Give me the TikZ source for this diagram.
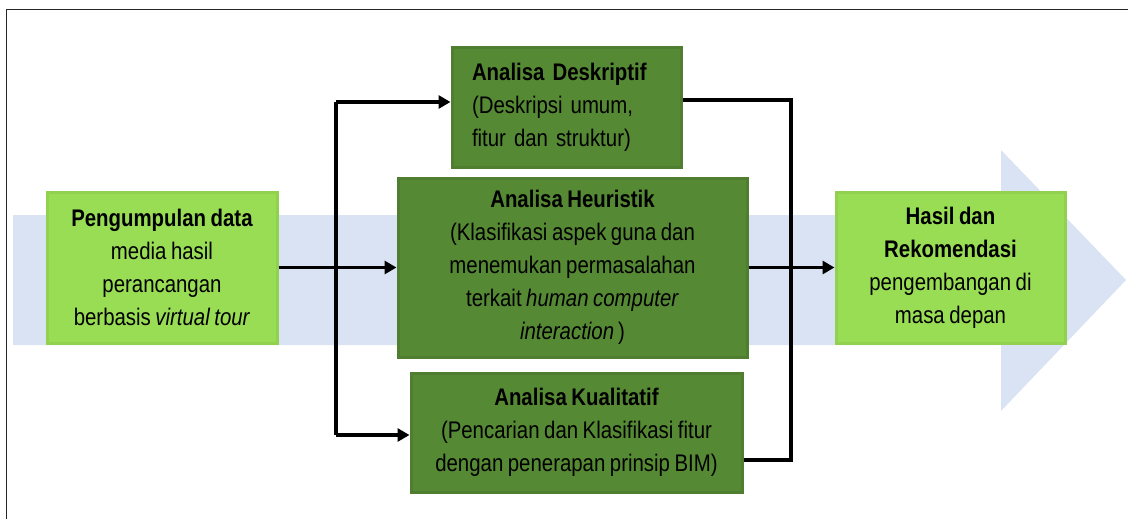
\documentclass[tikz,border=0pt]{standalone}
\usepackage{fontspec}
\setmainfont{Liberation Sans}[FakeStretch=0.85, WordSpace=0.8]
\usetikzlibrary{arrows.meta}
\definecolor{bandblue}{HTML}{DAE3F3}
\definecolor{lgfill}{HTML}{99DD55}
\definecolor{lgdraw}{HTML}{92D050}
\definecolor{dgfill}{HTML}{558934}
\definecolor{dgdraw}{HTML}{4F7E31}
\tikzset{
  txt/.style={font=\fontsize{24}{33}\selectfont, text=black},
  light/.style={txt, fill=lgfill, draw=lgdraw, line width=3pt, inner sep=0pt, align=center},
  dark/.style={txt, fill=dgfill, draw=dgdraw, line width=3pt, inner sep=0pt, align=center},
  conn/.style={line width=3.5pt, black},
  arr/.style={conn, -{Triangle[length=12pt,width=13pt]}},
}
\begin{document}
\begin{tikzpicture}[x=1pt,y=-1pt]
\useasboundingbox (0,0) rectangle (1128,519);
% frame
\draw[line width=1pt, black!85] (6,519) -- (6,10) -- (1128,10);
% big background arrow
\fill[bandblue] (13,215) -- (1001,215) -- (1001,150) -- (1126,280) -- (1001,411) -- (1001,345) -- (13,345) -- cycle;
% nodes
\node[light, minimum width=230pt, minimum height=151pt] (pd) at (162,267.5)
  {\textbf{Pengumpulan data}\\media hasil\\perancangan\\berbasis \textit{virtual tour}};
\node[dark, minimum width=229pt, minimum height=119pt, text width=189pt, align=left] (desc) at (566.5,107.5)
  {\textbf{Analisa Deskriptif}\\(Deskripsi umum,\\fitur dan struktur)};
\node[dark, minimum width=349pt, minimum height=179pt] (heu) at (572.5,267.5)
  {\textbf{Analisa Heuristik}\\(Klasifikasi aspek guna dan\\menemukan permasalahan\\terkait \textit{human computer}\\\textit{interaction}\,)};
\node[dark, minimum width=331pt, minimum height=119pt] (kual) at (576.5,432.5)
  {\textbf{Analisa Kualitatif}\\(Pencarian dan Klasifikasi fitur\\dengan penerapan prinsip BIM)};
\node[light, minimum width=229pt, minimum height=151pt] (hasil) at (950.5,267.5)
  {\textbf{Hasil dan}\\\textbf{Rekomendasi}\\pengembangan di\\masa depan};
% connectors
\coordinate (vt) at (336,102);
\coordinate (vb) at (336,435);
\coordinate (rt) at (791,100);
\coordinate (rb) at (791,460);
\draw[arr] (pd.east) -- (heu.west);
\draw[conn] (vt) -- (vb);
\draw[arr] (vt) -- (vt -| desc.west);
\draw[arr] (vb) -- (vb -| kual.west);
\draw[conn] (rt -| desc.east) -- (rt) -- (rb) -- (rb -| kual.east);
\draw[arr] (heu.east) -- (hasil.west);
\end{tikzpicture}
\end{document}
